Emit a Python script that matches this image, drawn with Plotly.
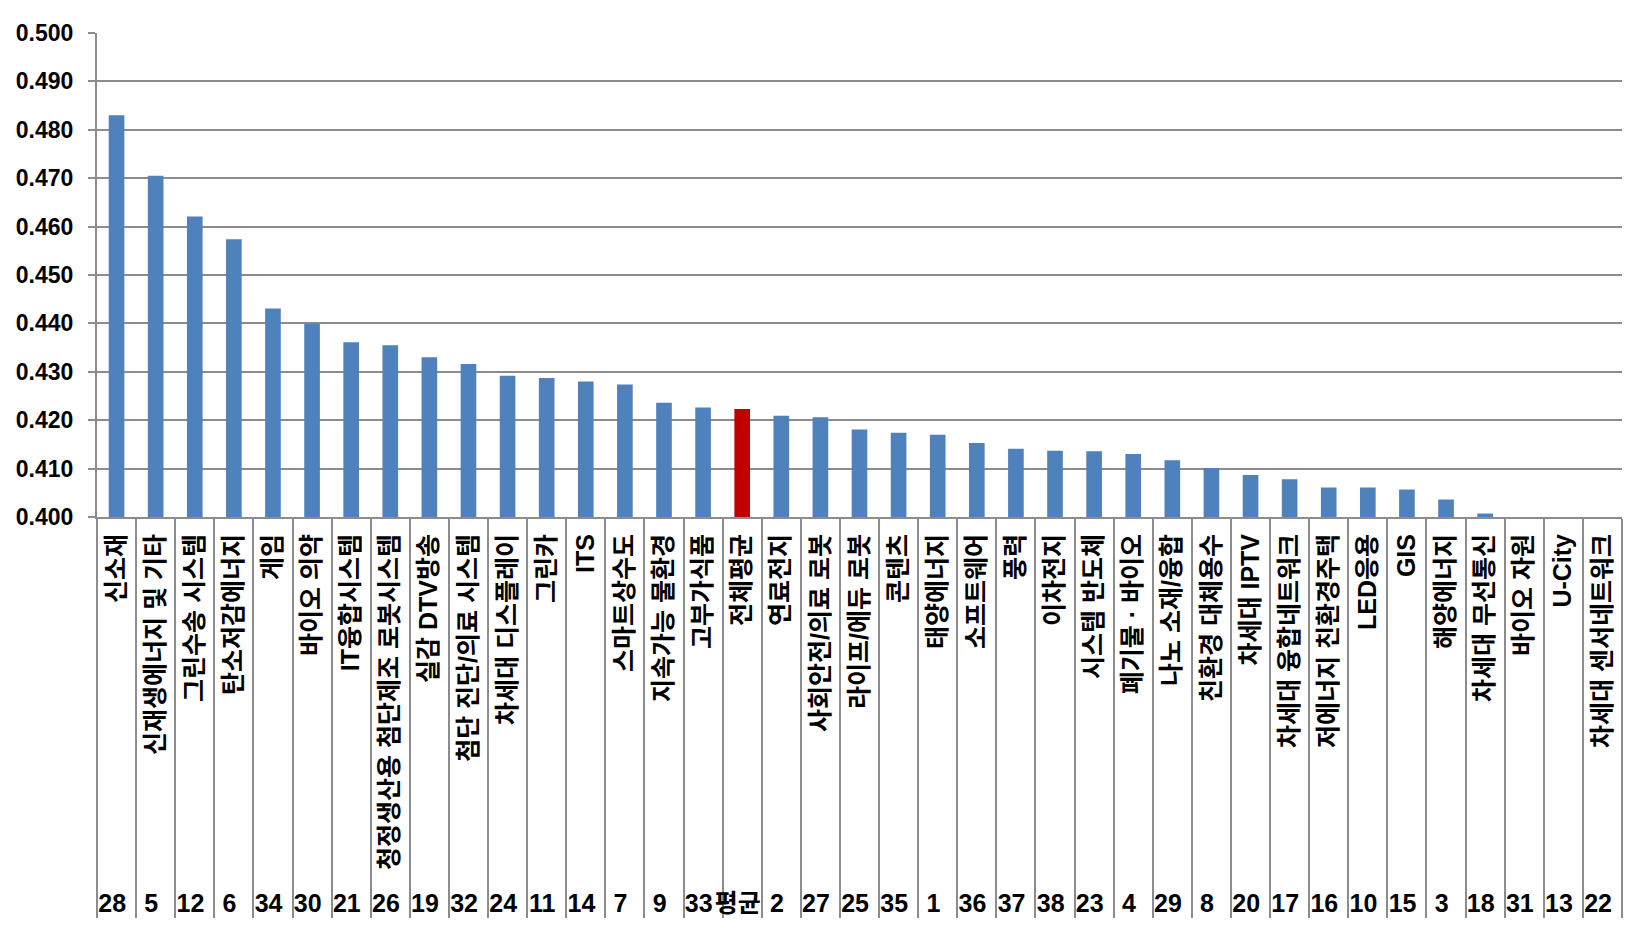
import plotly.graph_objects as go

categories = ["신소재", "신재생에너지 및 기타", "그린수송 시스템", "탄소저감에너지", "게임", "바이오 의약",
              "IT융합시스템", "청정생산용 첨단제조 로봇시스템", "실감 DTV방송", "첨단 진단/의료 시스템",
              "차세대 디스플레이", "그린카", "ITS", "스마트상수도", "지속가능 물환경", "고부가식품",
              "전체평균", "연료전지", "사회안전/의료 로봇", "라이프/에듀 로봇", "콘텐츠", "태양에너지",
              "소프트웨어", "풍력", "이차전지", "시스템 반도체", "폐기물 · 바이오", "나노 소재/융합",
              "친환경 대체용수", "차세대 IPTV", "차세대 융합네트워크", "저에너지 친환경주택", "LED응용",
              "GIS", "해양에너지", "차세대 무선통신", "바이오 자원", "U-City", "차세대 센서네트워크"]
codes = ["28", "5", "12", "6", "34", "30", "21", "26", "19", "32", "24", "11", "14", "7", "9", "33",
         "평균", "2", "27", "25", "35", "1", "36", "37", "38", "23", "4", "29", "8", "20", "17", "16",
         "10", "15", "3", "18", "31", "13", "22"]
values = [0.4830, 0.4705, 0.4621, 0.4574, 0.4431, 0.4400, 0.4361, 0.4355, 0.4330, 0.4316,
          0.4292, 0.4287, 0.4280, 0.4274, 0.4236, 0.4226, 0.4223, 0.4209, 0.4206, 0.4181,
          0.4174, 0.4170, 0.4153, 0.4141, 0.4137, 0.4136, 0.4130, 0.4117, 0.4101, 0.4087,
          0.4078, 0.4061, 0.4061, 0.4057, 0.4036, 0.4007, 0.3997, 0.3996, 0.3995]
highlight = "전체평균"
y_ticks = [0.40, 0.41, 0.42, 0.43, 0.44, 0.45, 0.46, 0.47, 0.48, 0.49, 0.50]

colors = ["#C00000" if c == highlight else "#4F81BD" for c in categories]
FONT = "Liberation Sans, Arial, Noto Sans CJK KR"

fig = go.Figure(go.Bar(
    x=[codes, categories],
    y=values,
    marker=dict(color=colors, line=dict(width=0)),
    hoverinfo="skip",
))

fig.update_layout(
    width=1637, height=946,
    margin=dict(l=97, r=15, t=33, b=429, autoexpand=False),
    paper_bgcolor="white", plot_bgcolor="white",
    bargap=0.6,
    showlegend=False,
    font=dict(family=FONT, color="black"),
)

fig.update_yaxes(
    range=[0.4, 0.5], tickvals=y_ticks, ticktext=[f"{v:.3f}" for v in y_ticks],
    showgrid=True, gridcolor="#8C8C8C", gridwidth=2,
    showline=True, linecolor="#8C8C8C", linewidth=2,
    ticks="outside", ticklen=7, tickcolor="#8C8C8C", tickwidth=2,
    tickfont=dict(family=FONT, size=23, weight="bold", color="black"),
    ticklabelstandoff=10, zeroline=False,
)

fig.update_xaxes(
    type="multicategory",
    tickangle=-90,
    showline=True, linecolor="#8C8C8C", linewidth=2,
    showdividers=True, dividercolor="#8C8C8C", dividerwidth=2,
    ticks="", showgrid=False,
    ticklabelstandoff=5,
    tickfont=dict(family=FONT, size=25, weight="bold", color="black"),
)

fig.write_html("out.html")
